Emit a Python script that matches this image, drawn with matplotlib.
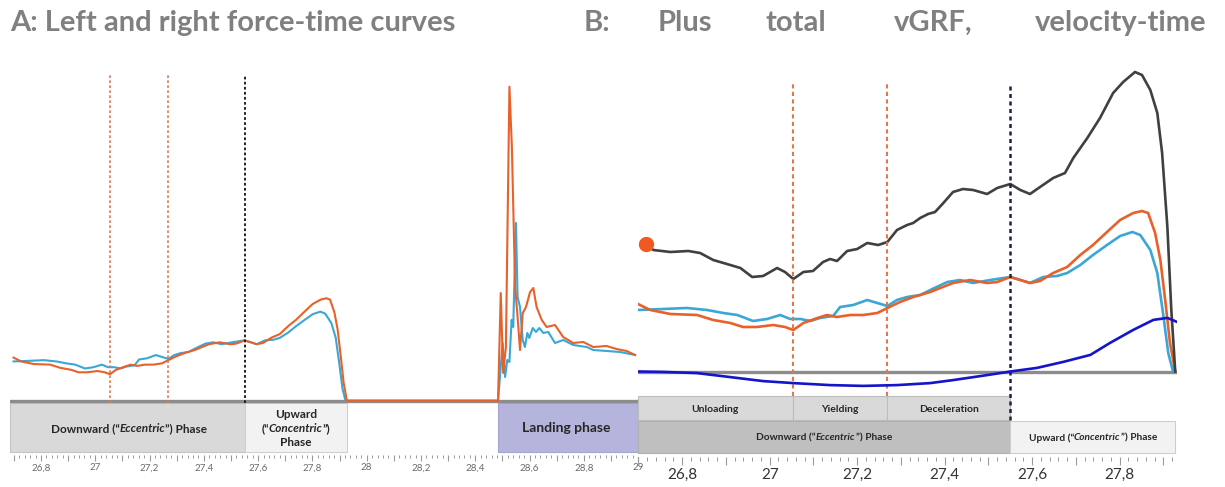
import matplotlib
matplotlib.use("Agg")
import matplotlib.pyplot as plt
from matplotlib.patches import Rectangle
from matplotlib.ticker import MultipleLocator, FuncFormatter
from matplotlib.transforms import blended_transform_factory, IdentityTransform

plt.rcParams['font.family'] = ['Lato', 'DejaVu Sans']

# ---------------------------------------------------------------
# Data (time in s, force in N, velocity in m/s)
# ---------------------------------------------------------------
# propulsion part (shown in both panels)
t_left = [26.699, 26.757, 26.811, 26.857, 26.894, 26.926, 26.962, 26.994, 27.024, 27.047,
          27.070, 27.093, 27.115, 27.145, 27.161, 27.191, 27.223, 27.246, 27.269, 27.291,
          27.314, 27.344, 27.367, 27.406, 27.435, 27.465, 27.504, 27.550, 27.573, 27.595,
          27.625, 27.657, 27.680, 27.710, 27.739, 27.771, 27.801, 27.829, 27.847, 27.870,
          27.886, 27.899, 27.911, 27.922]
f_left = [615, 625, 635, 615, 585, 565, 505, 525, 565, 525,
          525, 505, 535, 555, 645, 665, 715, 685, 655, 715,
          745, 765, 815, 895, 915, 885, 915, 945, 915, 885,
          945, 955, 985, 1065, 1165, 1265, 1355, 1395, 1365, 1215,
          985, 585, 185, 0]

t_right = [26.699, 26.727, 26.773, 26.834, 26.871, 26.910, 26.939, 26.971, 27.008, 27.035,
           27.054, 27.077, 27.109, 27.131, 27.154, 27.184, 27.214, 27.246, 27.269, 27.298,
           27.328, 27.344, 27.367, 27.390, 27.419, 27.458, 27.497, 27.520, 27.550, 27.573,
           27.595, 27.618, 27.648, 27.680, 27.710, 27.739, 27.771, 27.801, 27.831, 27.851,
           27.865, 27.881, 27.893, 27.904, 27.915, 27.927]
f_right = [675, 615, 575, 565, 515, 485, 445, 445, 465, 445,
           415, 485, 535, 565, 545, 565, 565, 585, 635, 695,
           745, 765, 795, 835, 885, 915, 885, 895, 945, 915,
           885, 905, 985, 1045, 1165, 1265, 1395, 1515, 1585, 1605,
           1585, 1385, 1115, 715, 285, 0]

t_total = [26.718, 26.734, 26.773, 26.814, 26.841, 26.871, 26.910, 26.933, 26.960, 26.985,
           27.017, 27.035, 27.054, 27.077, 27.099, 27.122, 27.138, 27.154, 27.177, 27.200,
           27.223, 27.248, 27.269, 27.291, 27.314, 27.328, 27.344, 27.362, 27.378, 27.397,
           27.419, 27.442, 27.465, 27.497, 27.520, 27.550, 27.573, 27.595, 27.618, 27.648,
           27.675, 27.694, 27.726, 27.755, 27.785, 27.808, 27.835, 27.851, 27.870, 27.886,
           27.897, 27.909, 27.918, 27.927]
f_total = [1272, 1215, 1195, 1205, 1185, 1115, 1065, 1035, 945, 955,
           1035, 995, 925, 995, 1005, 1095, 1125, 1105, 1205, 1225,
           1285, 1265, 1295, 1415, 1465, 1485, 1535, 1575, 1595, 1685,
           1795, 1825, 1815, 1775, 1835, 1875, 1815, 1775, 1845, 1935,
           1985, 2135, 2335, 2535, 2785, 2895, 2995, 2965, 2815, 2585,
           2185, 1445, 615, 0]

t_vel = [26.699, 26.757, 26.834, 26.910, 26.985, 27.054, 27.138, 27.214, 27.291, 27.367,
         27.419, 27.497, 27.550, 27.611, 27.671, 27.733, 27.778, 27.831, 27.877, 27.909,
         27.931]
vel = [0.0, -0.02, -0.08, -0.28, -0.48, -0.58, -0.68, -0.72, -0.68, -0.58,
       -0.43, -0.18, 0.0, 0.18, 0.48, 0.83, 1.43, 2.08, 2.58, 2.68,
       2.48]

# landing part (panel A only)
t_land_left = [28.484, 28.494, 28.501, 28.510, 28.518, 28.526, 28.534, 28.540, 28.550, 28.556,
               28.565, 28.575, 28.583, 28.592, 28.599, 28.612, 28.624, 28.636, 28.651, 28.669,
               28.694, 28.724, 28.761, 28.811, 28.835, 28.884, 28.933, 28.989]
f_land_left = [0, 528, 904, 371, 638, 606, 1265, 1155, 2785, 1625,
               1468, 951, 841, 1061, 983, 1139, 1077, 1139, 1061, 1077,
               904, 951, 873, 841, 794, 779, 763, 716]

t_land_right = [28.479, 28.484, 28.494, 28.503, 28.513, 28.526, 28.535, 28.547, 28.555, 28.565,
                28.575, 28.587, 28.602, 28.614, 28.626, 28.645, 28.663, 28.694, 28.724, 28.761,
                28.798, 28.835, 28.884, 28.921, 28.958, 28.989]
f_land_right = [0, 0, 1688, 434, 841, 4920, 3975, 1782, 1374, 794,
                1374, 1468, 1703, 1766, 1468, 1265, 1155, 1186, 998, 904,
                920, 841, 857, 810, 779, 716]

# phase boundaries (s)
t_start = 26.699
t_events = [27.053, 27.268, 27.550]   # end of unloading, end of yielding, v = 0
t_takeoff = 27.927
t_landing = 28.484
t_end = 28.989

sub_phase_names = ['Unloading', 'Yielding', 'Deceleration']

# ---------------------------------------------------------------
# Style
# ---------------------------------------------------------------
C_LEFT = '#3aa7d6'
C_RIGHT = '#e8612a'
C_TOTAL = '#404040'
C_VEL = '#1414c8'
C_BASE = '#8c8c8c'
C_EVT = '#e07a4e'
C_DOWN = '#202040'
C_TXT = '#262626'

W, H = 1225, 487
fig = plt.figure(figsize=(W / 100, H / 100), dpi=100)
renderer = fig.canvas.get_renderer()


def px_axes(left, right, top, bottom):
    return fig.add_axes([left / W, 1 - bottom / H, (right - left) / W, (bottom - top) / H])


def comma_fmt(v, pos):
    k = int(round(v * 10))
    if k % 2:
        return ''
    s = f'{v:.1f}'
    if s.endswith('.0'):
        s = s[:-2]
    return s.replace('.', ',')


def rich(ax, x, y, runs, size, trans):
    """Centre a line made of normal / italic bold runs at (x, y)."""
    texts, widths = [], []
    for s, it in runs:
        t = ax.text(0, 0, s, fontsize=size, fontweight='bold',
                    fontstyle='italic' if it else 'normal', color=C_TXT,
                    ha='left', va='center_baseline', transform=IdentityTransform())
        texts.append(t)
        widths.append(t.get_window_extent(renderer).width)
    cx, cy = trans.transform((x, y))
    left = cx - sum(widths) / 2
    for t, w in zip(texts, widths):
        t.set_position((left, cy))
        left += w


def box(ax, x0, x1, y0, y1, fc, ec):
    tr = blended_transform_factory(ax.transData, ax.transAxes)
    ax.add_patch(Rectangle((x0, y0), x1 - x0, y1 - y0, transform=tr,
                           facecolor=fc, edgecolor=ec, lw=0.8, clip_on=False, zorder=1))


def style_axis(ax, lsize, lcolor, maj, mnr):
    for s in ax.spines.values():
        s.set_visible(False)
    ax.set_yticks([])
    ax.xaxis.set_major_locator(MultipleLocator(0.1))
    ax.xaxis.set_minor_locator(MultipleLocator(0.02))
    ax.xaxis.set_major_formatter(FuncFormatter(comma_fmt))
    ax.tick_params(axis='x', which='major', length=maj, width=0.8, color='#9a9a9a',
                   labelsize=lsize, labelcolor=lcolor, pad=2)
    ax.tick_params(axis='x', which='minor', length=mnr, width=0.7, color='#9a9a9a')


# ---------------------------------------------------------------
# Panel A : left / right force-time curves
# ---------------------------------------------------------------
axA = px_axes(10, 639, 70, 455)
axA.set_xlim(26.6858, 29.0034)
axA.set_ylim(-851, 5182)
style_axis(axA, 7, '#6a6a6a', 4, 2.5)
trA = blended_transform_factory(axA.transData, axA.transAxes)

fa_top, fa_bot = (455 - 403) / 385, (455 - 452) / 385
box(axA, t_start - 0.013, t_events[2], fa_bot, fa_top, '#d9d9d9', '#c4c4c4')
box(axA, t_events[2], t_takeoff, fa_bot, fa_top, '#f2f2f2', '#cfcfcf')
box(axA, t_landing, t_end + 0.012, fa_bot, fa_top, '#b4b4dc', '#a6a6cc')

axA.axhline(0, xmin=0, xmax=0.995, color=C_BASE, lw=2.4, zorder=2)
axA.plot(t_left + t_land_left, f_left + f_land_left, color=C_LEFT, lw=1.5, zorder=3)
axA.plot(t_right + t_land_right, f_right + f_land_right, color=C_RIGHT, lw=1.5, zorder=4)

ya0, ya1 = (455 - 403) / 385, (455 - 75) / 385
for t in t_events[:2]:
    axA.axvline(t, ymin=ya0, ymax=ya1, color=C_EVT, lw=1.2, ls=(0, (1.6, 1.4)), zorder=5)
axA.axvline(t_events[2], ymin=ya0, ymax=ya1, color='#222222', lw=1.4, ls=(0, (1.4, 1.2)), zorder=5)

ym = (fa_top + fa_bot) / 2
rich(axA, (t_start + t_events[2]) / 2, ym,
     [('Downward (“', False), ('Eccentric', True), ('”) Phase', False)], 8.5, trA)
xm = (t_events[2] + t_takeoff) / 2
rich(axA, xm, (455 - 413) / 385, [('Upward', False)], 8.5, trA)
rich(axA, xm, (455 - 428) / 385, [('(“', False), ('Concentric', True), ('”)', False)], 8.5, trA)
rich(axA, xm, (455 - 442) / 385, [('Phase', False)], 8.5, trA)
rich(axA, (t_landing + t_end) / 2, ym, [('Landing phase', False)], 10, trA)

# ---------------------------------------------------------------
# Panel B : plus total vGRF and velocity
# ---------------------------------------------------------------
axB = px_axes(638, 1177, 65, 457)
axB.set_xlim(26.699, 27.931)
axB.set_ylim(-855, 3065)
style_axis(axB, 11, '#333333', 6, 3)
trB = blended_transform_factory(axB.transData, axB.transAxes)

r1_top, r1_bot = (457 - 396) / 392, (457 - 420) / 392
r2_top, r2_bot = (457 - 421) / 392, (457 - 453) / 392
bounds = [t_start] + t_events
for i, name in enumerate(sub_phase_names):
    box(axB, bounds[i], bounds[i + 1], r1_bot, r1_top, '#d9d9d9', '#bdbdbd')
    rich(axB, (bounds[i] + bounds[i + 1]) / 2, (r1_top + r1_bot) / 2, [(name, False)], 7.5, trB)
box(axB, t_start, t_events[2], r2_bot, r2_top, '#bfbfbf', '#b0b0b0')
box(axB, t_events[2], t_takeoff, r2_bot, r2_top, '#f2f2f2', '#cfcfcf')
rich(axB, (t_start + t_events[2]) / 2, (r2_top + r2_bot) / 2,
     [('Downward (“', False), ('Eccentric', True), ('”) Phase', False)], 7.3, trB)
rich(axB, (t_events[2] + t_takeoff) / 2, (r2_top + r2_bot) / 2,
     [('Upward (“', False), ('Concentric', True), ('”) Phase', False)], 7.3, trB)

axB.axhline(0, color=C_BASE, lw=2.4, zorder=2)
axB.plot(t_left, f_left, color=C_LEFT, lw=1.9, zorder=3)
axB.plot(t_right, f_right, color=C_RIGHT, lw=1.9, zorder=4)
axB.plot(t_total, f_total, color=C_TOTAL, lw=1.9, zorder=4)
axB.plot(t_total[0], f_total[0], 'o', color='#ef5a22', ms=10, zorder=6)

yb1 = (457 - 83) / 392
for t in t_events[:2]:
    axB.axvline(t, ymin=r1_top, ymax=yb1, color=C_EVT, lw=1.5, ls=(0, (2.0, 1.6)), zorder=5)
axB.axvline(t_events[2], ymin=r1_bot, ymax=yb1, color=C_DOWN, lw=1.8, ls=(0, (1.6, 1.4)), zorder=5)

axV = axB.twinx()
axV.set_ylim(-855 / 200, 3065 / 200)
axV.set_yticks([])
for s in axV.spines.values():
    s.set_visible(False)
axV.plot(t_vel, vel, color=C_VEL, lw=1.9, zorder=5)

# ---------------------------------------------------------------
# Titles
# ---------------------------------------------------------------
ty = 1 - 23 / H
fig.text(10 / W, ty, 'A: Left and right force-time curves', fontsize=21,
         fontweight='bold', color='#808080', va='center', ha='left')
for word, xpx in [('B:', 584), ('Plus', 658), ('total', 766), ('vGRF,', 894), ('velocity-time', 1035)]:
    fig.text(xpx / W, ty, word, fontsize=21, fontweight='bold', color='#808080',
             va='center', ha='left')

fig.savefig('out.png', dpi=100)
